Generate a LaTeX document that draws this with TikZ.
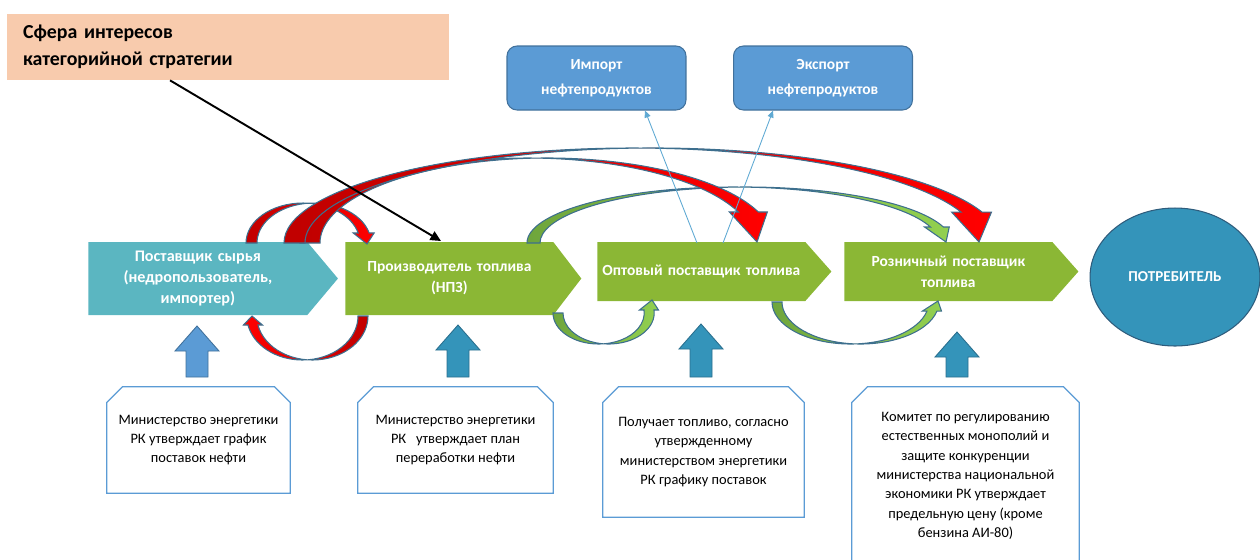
\documentclass[tikz,border=0pt]{standalone}
\usepackage{fontspec}
\setmainfont{Carlito}
\usetikzlibrary{shapes.geometric,shapes.symbols,arrows.meta}

\definecolor{sphere}{HTML}{F8CBAD}
\definecolor{impfill}{HTML}{5B9BD5}
\definecolor{impline}{HTML}{41719C}
\definecolor{supfill}{HTML}{5BB6C1}
\definecolor{chevgreen}{HTML}{8BB735}
\definecolor{consfill}{HTML}{3494BA}
\definecolor{consline}{HTML}{2E5C7C}
\definecolor{upfill1}{HTML}{5B9BD5}
\definecolor{upline1}{HTML}{41719C}
\definecolor{upfill2}{HTML}{3494BA}
\definecolor{upline2}{HTML}{2A6F8E}
\definecolor{boxline}{HTML}{5B9BD5}
\definecolor{thinblue}{HTML}{5FA9D3}
\definecolor{bandline}{HTML}{3D6F8E}
\definecolor{darkred}{HTML}{C00000}
\definecolor{brightred}{HTML}{FF0000}
\definecolor{darkgreen}{HTML}{6FA63C}
\definecolor{lightgreen}{HTML}{92D050}

\newcommand{\bandarrow}[9]{%
  \pgfmathsetmacro\bsx{#2+#4*cos(#6)}%
  \pgfmathsetmacro\bsy{#3+#5*sin(#6)}%
  \pgfmathsetmacro\bex{#2+#4*cos(#7)}%
  \pgfmathsetmacro\bey{#3+#5*sin(#7)}%
  \pgfmathsetmacro\bwing{0.45*#8}%
  \draw[#1] (\bsx,\bsy) arc[start angle=#6,end angle=#7,x radius=#4,y radius=#5]
    -- (\bex-\bwing,\bey) -- #9 -- (\bex+#8+\bwing,\bey) -- (\bex+#8,\bey)
    arc[start angle=#7,end angle=#6,x radius=#4,y radius=#5] -- cycle;}

\begin{document}
\begin{tikzpicture}[x=0.02cm,y=-0.02cm,
  chev/.style={signal,signal from=nowhere,signal to=east,inner sep=0pt,anchor=west,
    text=white,align=center,font=\fontsize{8.8}{12}\selectfont\bfseries},
  topbox/.style={rectangle,rounded corners=0.2cm,fill=impfill,draw=impline,line width=0.6pt,
    minimum width=3.58cm,minimum height=1.28cm,text=white,align=center,
    font=\fontsize{8.8}{14}\selectfont\bfseries},
  notebox/.style={rectangle,align=center,font=\fontsize{8.2}{11}\selectfont,inner sep=0pt},
  noteline/.style={draw=boxline,line width=0.7pt},
  upblock/.style={line width=0.5pt},
  redband/.style={draw=bandline,line width=0.6pt,left color=darkred,right color=brightred},
  redbandrev/.style={draw=bandline,line width=0.6pt,left color=brightred,right color=darkred},
  greenband/.style={draw=bandline,line width=0.6pt,left color=darkgreen,right color=lightgreen},
  thinarrow/.style={draw=thinblue,line width=0.5pt,-{Triangle[length=4pt,width=3.5pt]}},
  pointer/.style={line width=1.1pt,-{Triangle[length=6pt,width=5.5pt]}}]
\path[use as bounding box] (0,0) rectangle (1260,559);
\clip (0,0) rectangle (1260,559);

\node[fill=sphere,minimum width=8.84cm,minimum height=1.32cm,text width=8.2cm,inner xsep=0.32cm,
  inner ysep=0pt,align=left,font=\fontsize{11.3}{15.5}\selectfont\bfseries] (sphere) at (228,47)
  {Сфера интересов\\категорийной стратегии};
\node[topbox] (import) at (596.5,78) {Импорт\\нефтепродуктов};
\node[topbox] (export) at (823,78) {Экспорт\\нефтепродуктов};

\node[chev,fill=supfill,minimum height=1.46cm,text width=4.38cm,signal pointer angle=100,
  font=\fontsize{9.2}{12.2}\selectfont\bfseries]
  (supplier) at (88,278.5) {Поставщик сырья\\(недропользователь,\\импортер)};
\node[chev,fill=chevgreen,minimum height=1.46cm,text width=4.16cm,signal pointer angle=105]
  (producer) at (345,278.5) {Производитель топлива\\(НПЗ)};
\node[chev,fill=chevgreen,minimum height=1.18cm,text width=4.16cm,signal pointer angle=97]
  (wholesale) at (597,271.5) {Оптовый поставщик топлива};
\node[chev,fill=chevgreen,minimum height=1.18cm,text width=4.16cm,signal pointer angle=97]
  (retail) at (844,271.5) {Розничный поставщик\\топлива};
\node[ellipse,fill=consfill,draw=consline,line width=0.6pt,minimum width=3.4cm,minimum height=2.76cm,
  text=white,font=\fontsize{8.6}{10}\selectfont\bfseries] (consumer) at (1175,277) {ПОТРЕБИТЕЛЬ};

\bandarrow{greenband}{733}{243}{206}{56}{180}{343.4}{13}{(946,242)}
\bandarrow{redband}{303}{243}{57}{40}{180}{345.5}{11}{(367,244)}
\bandarrow{redband}{527}{243}{227}{85}{180}{338.6}{20}{(757,242)}
\bandarrow{redband}{632}{243}{348}{95}{180}{341}{21}{(979,242)}
\bandarrow{redbandrev}{302.4}{316}{55.6}{44}{0}{168.2}{10}{(252,316)}
\bandarrow{greenband}{598.6}{313}{45.6}{31}{180}{-5.6}{10}{(652,300)}
\bandarrow{greenband}{850.4}{302}{78.4}{42}{180}{12.4}{10}{(938,301)}

\foreach \ux/\uy/\uf/\ud in {197/326/upfill1/upline1,458/325/upfill2/upline2,
  701/324/upfill2/upline2,957/332/upfill2/upline2}
  \draw[upblock,fill=\uf,draw=\ud] (\ux,\uy) -- (\ux+22,\uy+25) -- (\ux+11,\uy+25) -- (\ux+11,377)
    -- (\ux-11,377) -- (\ux-11,\uy+25) -- (\ux-22,\uy+25) -- cycle;

\node[notebox,minimum width=3.66cm,minimum height=2.12cm] (note1) at (198.5,440)
  {Министерство энергетики\\РК утверждает график\\поставок нефти};
\node[notebox,minimum width=3.9cm,minimum height=2.12cm] (note2) at (455.5,440)
  {Министерство энергетики\\РК \ \ утверждает план\\переработки нефти};
\node[notebox,minimum width=4.02cm,minimum height=2.6cm] (note3) at (703.5,452)
  {Получает топливо, согласно\\утвержденному\\министерством энергетики\\РК графику поставок};
\node[notebox,minimum width=4.54cm,minimum height=3.56cm] (note4) at (965.5,476)
  {Комитет по регулированию\\естественных монополий и\\защите конкуренции\\министерства национальной\\экономики РК утверждает\\предельную цену (кроме\\бензина АИ-80)};
\foreach \n in {note1,note2,note3,note4}
  \draw[noteline] (\n.south west) -- ([yshift=-0.32cm]\n.north west) -- ([xshift=0.32cm]\n.north west)
    -- ([xshift=-0.32cm]\n.north east) -- ([yshift=-0.32cm]\n.north east) -- (\n.south east) -- cycle;

\coordinate (impfoot) at (697,243);
\coordinate (expfoot) at (723,243);
\coordinate (hit) at (441,241);
\draw[thinarrow] (impfoot) -- ([xshift=0.97cm]import.south);
\draw[thinarrow] (expfoot) -- ([xshift=-1cm]export.south);
\draw[pointer] ([xshift=-1.16cm]sphere.south) -- (hit);
\end{tikzpicture}
\end{document}
